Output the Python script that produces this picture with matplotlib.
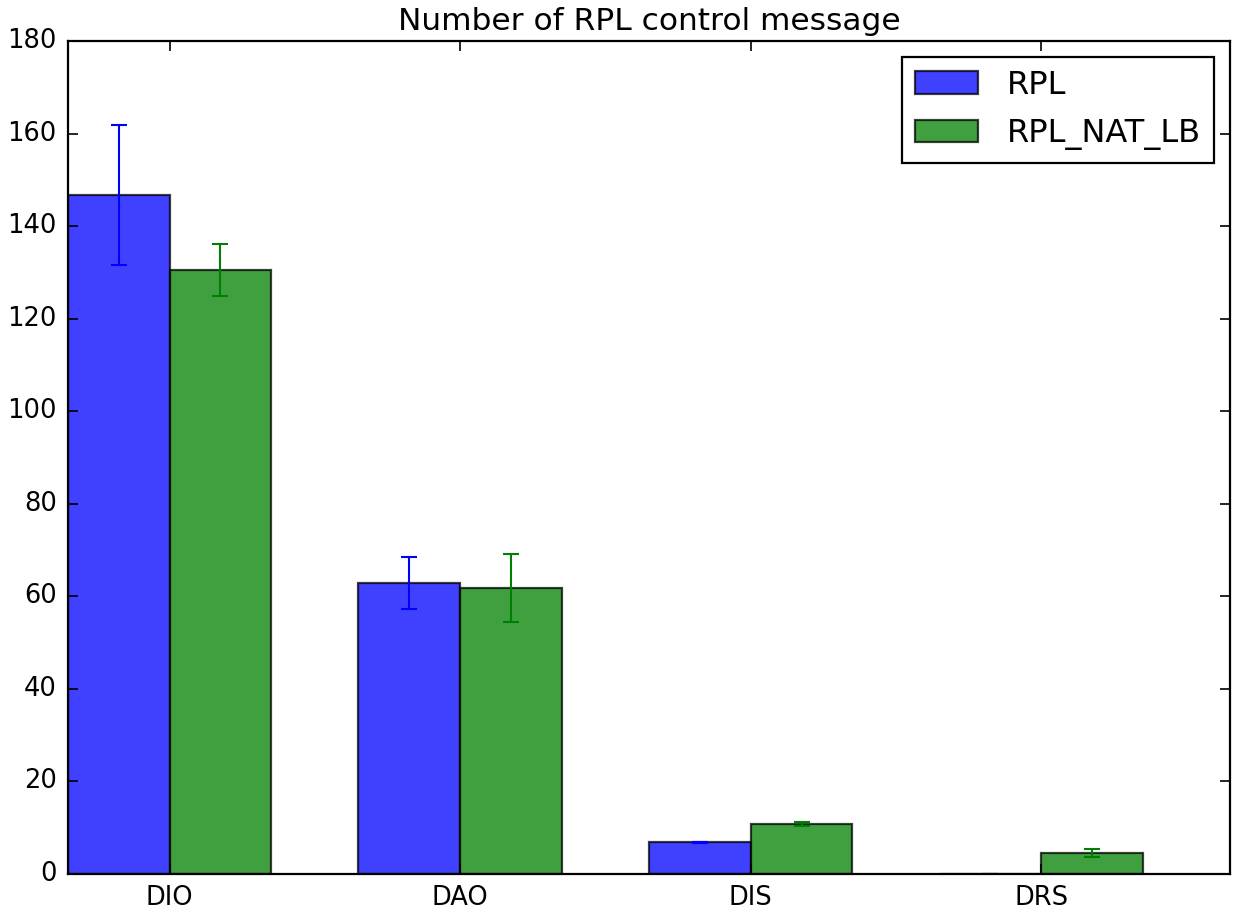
import numpy as np
import matplotlib
matplotlib.use("Agg")
import matplotlib.pyplot as plt

categories = ["DIO", "DAO", "DIS", "DRS"]
rpl_means = [146.7, 62.9, 6.9, 0.0]
rpl_err = [15.2, 5.6, 0.1, 0.0]
nat_means = [130.5, 61.8, 10.8, 4.5]
nat_err = [5.6, 7.3, 0.4, 0.85]


def draw():
    plt.style.use("classic")
    fig = plt.figure(figsize=(12.33, 9.09), dpi=100)
    ax = fig.add_axes([0.0551, 0.0385, 0.9425, 0.9164])

    index = np.arange(len(categories))
    bar_width = 0.35
    opacity = 0.75

    ax.bar(index, rpl_means, bar_width, align="edge", alpha=opacity,
           color="b", edgecolor="black", linewidth=1.6,
           yerr=rpl_err, error_kw={"ecolor": "b", "capsize": 6, "elinewidth": 1.5,
                                   "capthick": 1.5},
           label="RPL")
    ax.bar(index + bar_width, nat_means, bar_width, align="edge", alpha=opacity,
           color="g", edgecolor="black", linewidth=1.6,
           yerr=nat_err, error_kw={"ecolor": "g", "capsize": 6, "elinewidth": 1.5,
                                   "capthick": 1.5},
           label="RPL_NAT_LB")

    ax.set_xlim(0, 4)
    ax.set_ylim(0, 180)
    ax.set_xticks(index + bar_width)
    ax.set_xticklabels(categories)
    ax.tick_params(labelsize=18.5, width=1.2, length=7, pad=8)
    for s in ax.spines.values():
        s.set_linewidth(1.6)
        s.set_zorder(3)
    ax.set_title("Number of RPL control message", fontsize=22.5, y=1.005)

    leg = ax.legend(loc="upper right", fontsize=23, handletextpad=0.9,
                    labelspacing=0.55)
    leg.get_frame().set_linewidth(1.6)

    fig.savefig("out.png", dpi=100)


if __name__ == "__main__":
    draw()
